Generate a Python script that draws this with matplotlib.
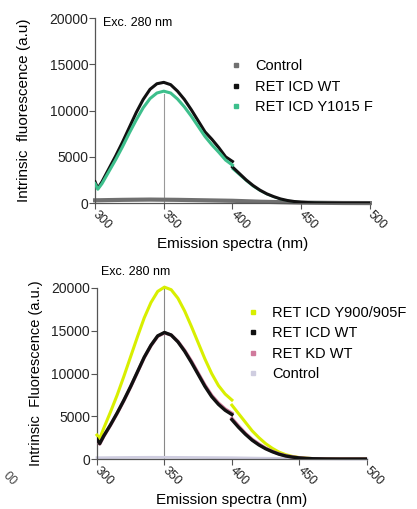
import matplotlib
matplotlib.use("Agg")
import matplotlib.pyplot as plt
from matplotlib.lines import Line2D

plt.rcParams['font.family'] = ['Liberation Sans', 'DejaVu Sans']

# ---------------- data: top panel ----------------
top_wl_a = [300, 302, 305, 310, 315, 320, 325, 330, 335, 340, 345, 350, 355, 360,
            365, 370, 375, 380, 385, 390, 395, 400]
top_wt_a = [2300, 1600, 2300, 3700, 5100, 6600, 8200, 9800, 11200, 12300, 12900, 13050,
            12800, 12100, 11200, 10100, 8900, 7700, 6900, 6000, 5000, 4500]
top_y1015_a = [2100, 1500, 2100, 3400, 4700, 6100, 7600, 9000, 10300, 11300, 11900, 12100,
               11900, 11250, 10400, 9400, 8300, 7200, 6300, 5500, 4650, 4100]
top_wl_b = [400, 405, 410, 415, 420, 425, 430, 435, 440, 445, 450, 455, 460, 470, 480, 490, 500]
top_wt_b = [3900, 3200, 2500, 1900, 1400, 1000, 700, 450, 280, 170, 100, 60, 30, 10, 0, 0, 0]
top_y1015_b = [3700, 3050, 2400, 1800, 1330, 950, 660, 420, 260, 160, 90, 55, 25, 8, 0, 0, 0]
top_ctrl_wl = [300, 320, 340, 360, 380, 400, 420, 450, 480, 500]
top_ctrl = [300, 350, 380, 350, 300, 250, 150, 50, 10, 0]

# ---------------- data: bottom panel ----------------
bot_wl_a = [300, 302, 305, 310, 315, 320, 325, 330, 335, 340, 345, 350, 355, 360,
            365, 370, 375, 380, 385, 390, 395, 400]
bot_y900_a = [2800, 2400, 3600, 5500, 7500, 9700, 12000, 14300, 16500, 18300, 19600, 20100,
              19800, 18800, 17300, 15500, 13600, 11700, 10000, 8600, 7600, 6900]
bot_wt_a = [2300, 1800, 2700, 4000, 5400, 6900, 8500, 10200, 11900, 13300, 14400, 14800,
            14500, 13700, 12600, 11300, 9900, 8500, 7300, 6400, 5700, 5200]
bot_kd_a = [2200, 1750, 2650, 3950, 5350, 6850, 8450, 10150, 11850, 13250, 14350, 14750,
            14500, 13750, 12700, 11450, 10050, 8650, 7450, 6550, 5850, 5350]
bot_wl_b = [400, 405, 410, 415, 420, 425, 430, 435, 440, 445, 450, 455, 460, 470, 480, 490, 500]
bot_y900_b = [6300, 5300, 4300, 3300, 2500, 1800, 1250, 800, 500, 300, 170, 100, 50, 15, 0, 0, 0]
bot_wt_b = [4600, 3700, 2900, 2200, 1650, 1200, 850, 560, 350, 220, 130, 70, 35, 10, 0, 0, 0]
bot_kd_b = [4750, 3850, 3000, 2300, 1750, 1270, 900, 600, 380, 240, 140, 75, 38, 10, 0, 0, 0]
bot_ctrl_wl = [300, 320, 340, 360, 380, 400, 420, 450, 480, 500]
bot_ctrl = [150, 180, 200, 190, 170, 150, 100, 40, 10, 0]

x_ticks = [300, 350, 400, 450, 500]
y_ticks = [0, 5000, 10000, 15000, 20000]

C_BLACK = '#111111'
C_GREEN = '#3dbf8c'
C_GRAY = '#707070'
C_YEL = '#d8ef00'
C_PINK = '#d07a9c'
C_LAV = '#cfcde0'

fig = plt.figure(figsize=(4.17, 5.09), dpi=100)

ax1 = fig.add_axes([0.228, 0.601, 0.659, 0.3635])
ax2 = fig.add_axes([0.2326, 0.0982, 0.647, 0.336])


def style(ax):
    ax.set_xlim(300, 500)
    ax.set_ylim(0, 20000)
    ax.set_xticks(x_ticks)
    ax.set_yticks(y_ticks)
    ax.spines['top'].set_visible(False)
    ax.spines['right'].set_visible(False)
    for s in ('left', 'bottom'):
        ax.spines[s].set_color('#555555')
        ax.spines[s].set_linewidth(0.9)
    ax.tick_params(axis='both', direction='out', length=4, width=0.8, color='#555555',
                   labelsize=10, labelcolor='#222222', pad=1)
    ax.tick_params(axis='x', pad=3)
    for lab in ax.get_xticklabels():
        lab.set_rotation(-45)
        lab.set_ha('left')
        lab.set_va('center')
        lab.set_rotation_mode('anchor')
        lab.set_fontsize(9)


# ---- top ----
style(ax1)
ax1.plot([350, 350], [0, 11800], color='#999999', lw=0.8, zorder=1)
ax1.plot(top_ctrl_wl, top_ctrl, color=C_GRAY, lw=3, zorder=2, clip_on=False)
ax1.plot(top_wl_a, top_wt_a, color=C_BLACK, lw=2.2, zorder=3)
ax1.plot(top_wl_b, top_wt_b, color=C_BLACK, lw=2.2, zorder=3)
ax1.plot(top_wl_a, top_y1015_a, color=C_GREEN, lw=2.2, zorder=4)
ax1.plot(top_wl_b, top_y1015_b, color=C_GREEN, lw=1.5, zorder=2)
ax1.set_xlabel('Emission spectra (nm)', fontsize=11, labelpad=4)
ax1.set_ylabel('Intrinsic  fluorescence (a.u)', fontsize=11, labelpad=13)
ax1.text(306, 19500, 'Exc. 280 nm', fontsize=9, va='center', ha='left')

h1 = [Line2D([], [], ls='none', marker='s', ms=2.5, color=C_GRAY),
      Line2D([], [], ls='none', marker='s', ms=2.5, color=C_BLACK),
      Line2D([], [], ls='none', marker='s', ms=2.5, color=C_GREEN)]
fig.legend(h1, ['Control', 'RET ICD WT', 'RET ICD Y1015 F'], loc='upper left',
           bbox_to_anchor=(0.535, 0.895), frameon=False, fontsize=10.5,
           handlelength=1.0, handletextpad=0.8, labelspacing=0.45, borderaxespad=0)

# ---- bottom ----
style(ax2)
ax2.plot([350, 350], [0, 20200], color='#888888', lw=0.8, zorder=1, clip_on=False)
ax2.plot(bot_ctrl_wl, bot_ctrl, color=C_LAV, lw=2, zorder=2, clip_on=False)
ax2.plot(bot_wl_a, bot_y900_a, color=C_YEL, lw=2.2, zorder=3, clip_on=False)
ax2.plot(bot_wl_b, bot_y900_b, color=C_YEL, lw=2.2, zorder=3)
ax2.plot(bot_wl_a, bot_kd_a, color=C_PINK, lw=2.4, zorder=4)
ax2.plot(bot_wl_b, bot_kd_b, color=C_PINK, lw=2.4, zorder=4)
ax2.plot(bot_wl_a, bot_wt_a, color=C_BLACK, lw=2.4, zorder=5)
ax2.plot(bot_wl_b, bot_wt_b, color=C_BLACK, lw=2.4, zorder=5)
ax2.set_xlabel('Emission spectra (nm)', fontsize=11, labelpad=4)
ax2.set_ylabel('Intrinsic  Fluorescence (a.u.)', fontsize=10.5, labelpad=6)
fig.text(0.243, 0.466, 'Exc. 280 nm', fontsize=9, va='center', ha='left')

h2 = [Line2D([], [], ls='none', marker='s', ms=2.5, color=C_YEL),
      Line2D([], [], ls='none', marker='s', ms=2.5, color=C_BLACK),
      Line2D([], [], ls='none', marker='s', ms=2.5, color=C_PINK),
      Line2D([], [], ls='none', marker='s', ms=2.5, color=C_LAV)]
fig.legend(h2, ['RET ICD Y900/905F', 'RET ICD WT', 'RET KD WT', 'Control'], loc='upper left',
           bbox_to_anchor=(0.575, 0.411), frameon=False, fontsize=10.5,
           handlelength=1.0, handletextpad=0.8, labelspacing=0.45, borderaxespad=0)

# cropped fragment of neighbouring panel at the lower-left edge
fig.text(0.0, 0.06, '00', fontsize=9, rotation=-45, color='#444444', ha='left', va='center')

fig.savefig('out.png', dpi=100)
